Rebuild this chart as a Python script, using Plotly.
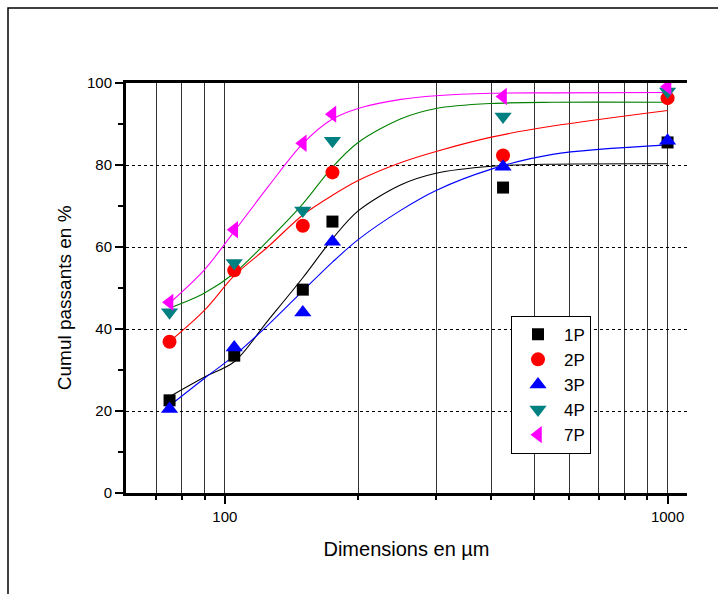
import plotly.graph_objects as go

# ---- data ----
sizes = [75, 105, 150, 175, 425, 1000]
series_names = ["1P", "2P", "3P", "4P", "7P"]
p1 = [22.6, 33.5, 49.6, 66.2, 74.5, 85.5]
p2 = [36.9, 54.3, 65.2, 78.2, 82.3, 96.3]
p3 = [20.5, 35.5, 44.0, 61.3, 79.6, 85.9]
p4 = [44.1, 56.1, 68.9, 85.9, 91.8, 97.9]
p7 = [46.5, 64.2, 85.3, 92.4, 96.7, 99.1]

# fitted curves
fit_x = [75, 90, 105, 125, 150, 175, 200, 250, 300, 400, 550, 1000]
fit1 = [23.5, 28.3, 32.0, 42.0, 52.5, 62.0, 68.8, 75.2, 78.0, 79.7, 80.2, 80.3]
fit2 = [36.9, 44.6, 53.0, 60.0, 67.8, 72.6, 76.2, 80.6, 83.3, 86.8, 89.5, 93.3]
fit3 = [21.3, 28.0, 33.5, 40.9, 49.3, 56.3, 61.8, 69.0, 73.8, 79.0, 82.6, 84.9]
fit4 = [45.1, 48.8, 53.6, 61.5, 70.5, 79.5, 85.5, 91.3, 93.8, 95.0, 95.3, 95.3]
fit7 = [46.3, 54.5, 63.8, 74.6, 85.2, 91.2, 93.8, 96.0, 96.9, 97.5, 97.6, 97.7]

x_major = [100, 1000]
x_minor = [70, 80, 90, 200, 300, 400, 500, 600, 700, 800, 900]

points = [p1, p2, p3, p4, p7]
fits = [fit1, fit2, fit3, fit4, fit7]
marker_colors = ["#000000", "#FF0000", "#0000FF", "#008080", "#FF00FF"]
line_colors = ["#000000", "#FF0000", "#0000FF", "#008000", "#FF00FF"]
symbols = ["square", "circle", "triangle-up", "triangle-down", "triangle-left"]
msizes = [12, 14, 15, 15, 15]

FONT = "Liberation Sans, Arial, sans-serif"

fig = go.Figure()
for fy, lc in zip(fits, line_colors):
    fig.add_trace(go.Scatter(x=fit_x, y=fy, mode="lines",
                             line=dict(color=lc, width=1.1, shape="spline", smoothing=0.9),
                             showlegend=False, hoverinfo="skip"))
for name, py, mc, sym, ms in zip(series_names, points, marker_colors, symbols, msizes):
    fig.add_trace(go.Scatter(x=sizes, y=py, mode="markers", name=name,
                             marker=dict(color=mc, symbol=sym, size=ms, line=dict(width=0))))

# plot area pixel geometry
L, R, T, B = 126, 687, 83, 493.5
W, H = 718, 594
pw, ph = R - L, B - T

def px(xp):
    return (xp - L) / pw

def py_(yp):
    return (B - yp) / ph

# outer frame (top and left)
fig.add_shape(type="path", xref="paper", yref="paper",
              path=f"M {px(8)},{py_(W)} L {px(8)},{py_(8)} L {px(W)},{py_(8)}",
              line=dict(color="black", width=1.5))

fig.add_annotation(text="Cumul passants en %", textangle=-90, showarrow=False,
                   xref="paper", yref="paper", x=px(64), y=py_(298.5),
                   xanchor="center", yanchor="middle",
                   font=dict(family=FONT, size=19, color="black"))

fig.update_layout(
    width=W, height=H,
    margin=dict(l=L, r=W - R, t=T, b=H - B),
    paper_bgcolor="white", plot_bgcolor="white",
    font=dict(family=FONT, color="black"),
    legend=dict(x=px(511), y=py_(316), xanchor="left", yanchor="top",
                bordercolor="black", borderwidth=1, bgcolor="white",
                font=dict(family=FONT, size=17, color="black"),
                tracegroupgap=0, itemwidth=42),
    xaxis=dict(type="log", range=[1.7767, 3.0439],
               tickvals=x_major, ticktext=[str(v) for v in x_major],
               ticks="outside", ticklen=8, tickwidth=2, tickcolor="black",
               tickfont=dict(family=FONT, size=15, color="black"),
               showline=True, linecolor="black", linewidth=3, mirror=True,
               showgrid=True, gridcolor="#333333", gridwidth=1,
               minor=dict(tickvals=x_minor, ticks="outside", ticklen=4, tickwidth=2,
                          tickcolor="black", showgrid=True, gridcolor="#333333", gridwidth=1),
               zeroline=False,
               title=dict(text="Dimensions en µm", standoff=18,
                          font=dict(family=FONT, size=20, color="black"))),
    yaxis=dict(range=[0, 100], tickvals=[0, 20, 40, 60, 80, 100],
               ticks="outside", ticklen=8, tickwidth=2, tickcolor="black",
               tickfont=dict(family=FONT, size=15, color="black"),
               showline=True, linecolor="black", linewidth=3, mirror=False,
               showgrid=True, gridcolor="black", gridwidth=1, griddash="dot",
               minor=dict(tickvals=[10, 30, 50, 70, 90], ticks="outside", ticklen=5,
                          tickwidth=2, tickcolor="black", showgrid=False),
               zeroline=False),
)

fig.write_html("out.html")
